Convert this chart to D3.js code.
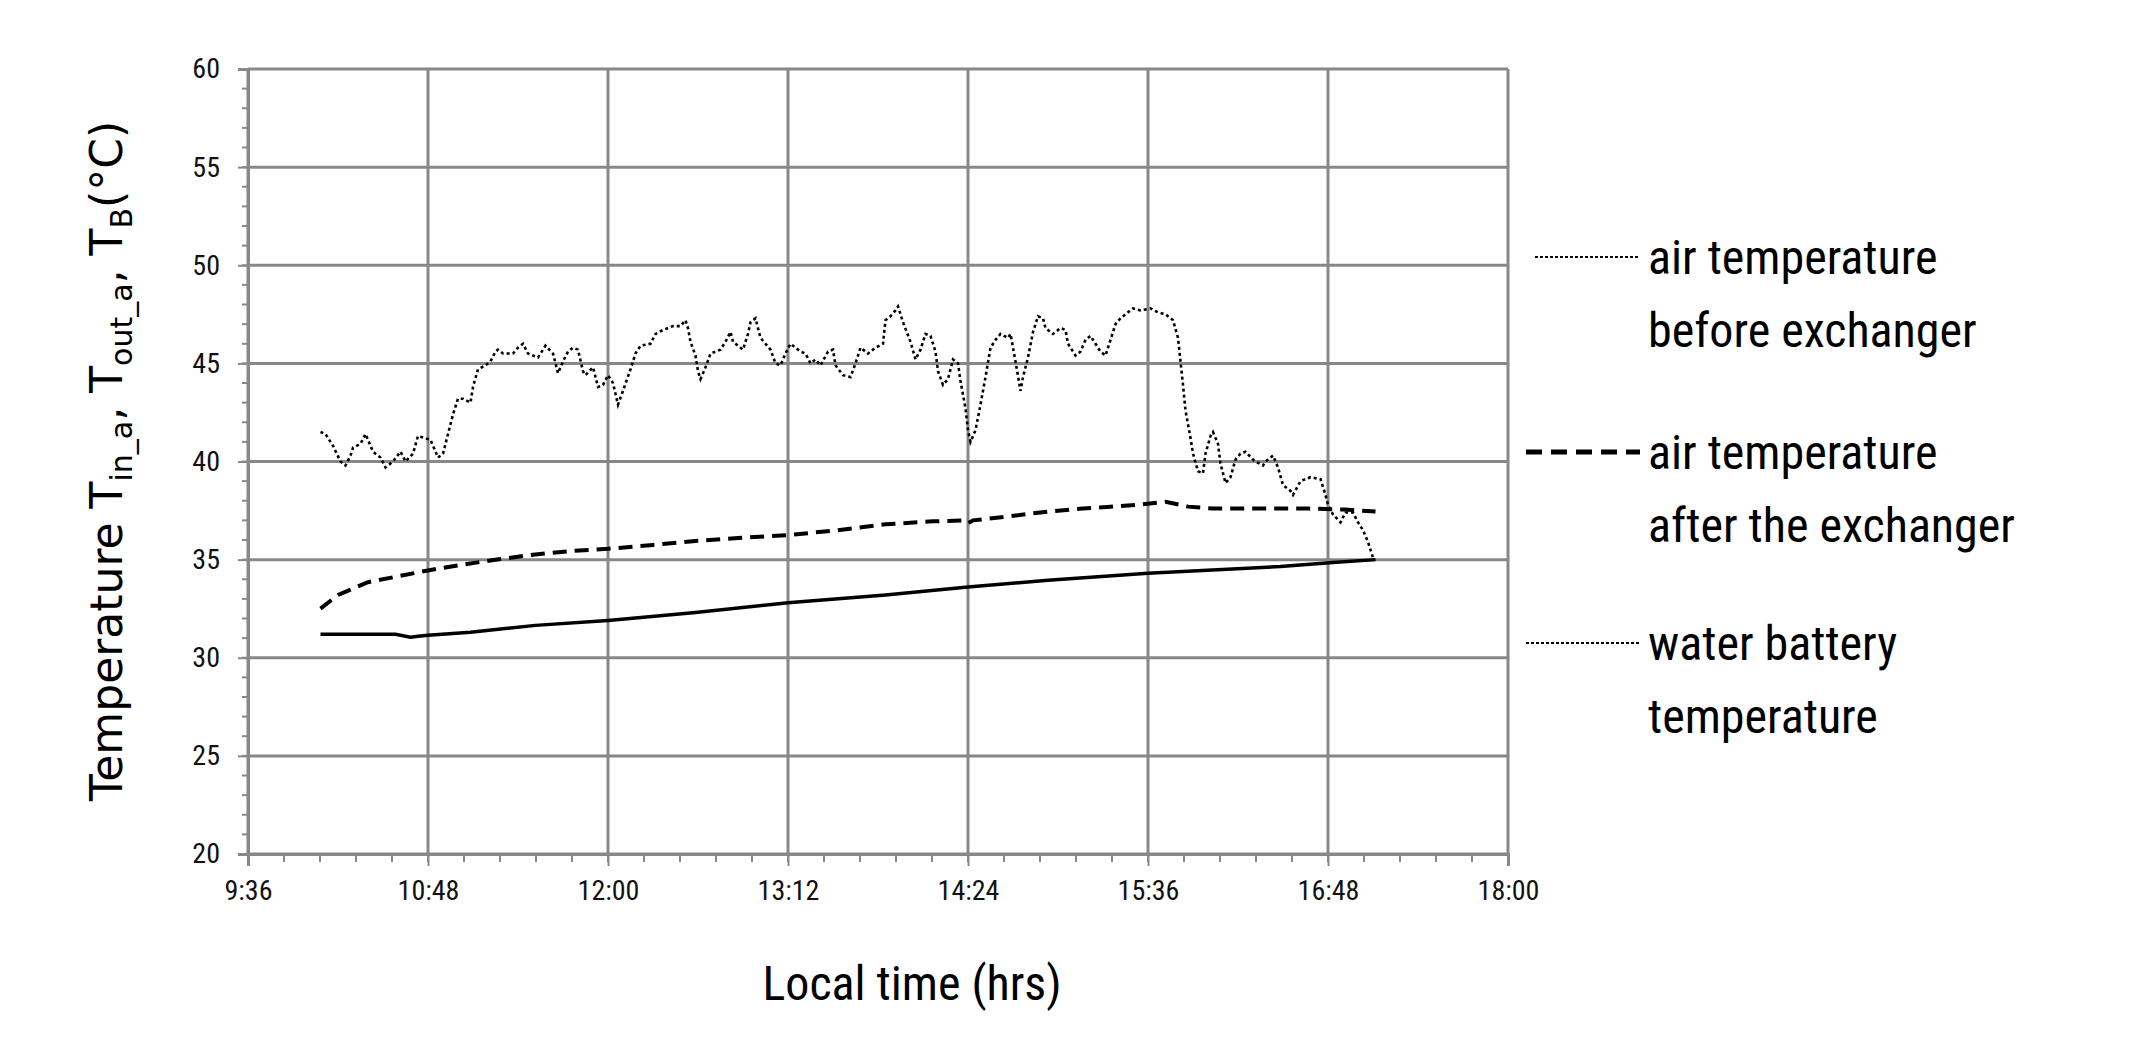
<!DOCTYPE html>
<html><head><meta charset="utf-8">
<script src="https://cdn.jsdelivr.net/npm/d3@7"></script>
<style>body{margin:0;background:#fff}</style></head>
<body><svg id="c" width="2147" height="1059"></svg>
<script>
// time in minutes after midnight
const beforeTime=[605,607,610,613,615,617,618,621,623,626,629,631,634,637,639,642,644,649,650,652,654,656,658,660,662,665,666,668,671,673,675,676,678,682,684,686,688,692,695,698,700,702,704,706,708,710,711,714,716,718,720,722,724,726,729,731,733,737,739,742,746,749,751,752,753,755,756,757,759,761,765,767,769,770,773,774,776,777,779,781,783,785,787,789,791,793,797,799,801,803,805,808,810,811,814,817,819,821,824,827,830,831,833,835,836,838,841,843,845,847,849,851,852,854,856,858,860,861,863,864,865,867,869,871,873,875,877,880,881,883,885,886,888,890,892,894,895,898,901,903,904,906,907,909,911,913,915,917,919,921,923,925,928,930,933,937,940,943,946,948,949,950,951,953,954,956,958,959,961,962,964,965,967,969,971,973,975,978,979,982,983,986,988,990,993,994,997,1001,1005,1007,1008,1010,1013,1015,1018,1020,1022,1024,1026];
const beforeTemp=[41.5,41.4,40.8,40.0,39.8,40.3,40.7,40.9,41.4,40.5,40.2,39.7,40.0,40.5,40.0,40.4,41.3,41.1,40.8,40.2,40.4,41.4,42.4,43.2,43.2,43.0,43.8,44.7,44.9,45.1,45.6,45.7,45.5,45.5,45.8,46.0,45.5,45.3,45.9,45.5,44.5,45.1,45.6,45.8,45.7,44.6,44.4,44.8,43.8,43.9,44.4,44.0,42.9,43.6,44.7,45.5,45.9,46.0,46.5,46.7,46.9,46.9,47.2,46.8,46.1,45.4,44.6,44.2,44.8,45.5,45.7,46.1,46.6,46.1,45.8,45.7,46.5,47.1,47.3,46.3,46.0,45.7,45.0,44.9,45.5,46.0,45.6,45.5,45.0,45.2,44.9,45.6,45.7,44.9,44.4,44.3,45.0,45.8,45.5,45.8,46.0,47.2,47.4,47.7,47.9,47.1,46.1,45.2,45.7,46.5,46.4,45.6,44.6,43.9,44.2,45.2,45.0,44.1,42.7,41.6,41.0,41.6,42.9,44.3,45.8,46.2,46.5,46.3,46.5,45.1,43.6,44.3,45.3,46.6,47.4,47.3,46.8,46.5,46.8,46.7,46.0,45.6,45.4,45.6,46.2,46.4,46.0,45.6,45.4,46.2,47.0,47.3,47.6,47.8,47.7,47.8,47.6,47.5,47.2,46.3,45.1,43.9,42.6,41.2,40.4,39.5,39.4,40.4,41.3,41.5,40.9,39.9,38.9,39.2,40.1,40.4,40.5,40.1,40.0,39.8,40.0,40.3,39.7,38.8,38.5,38.3,39.0,39.2,39.1,38.3,37.8,37.3,36.9,37.4,37.4,36.9,36.5,35.9,35.1];
const afterTime=[605,612,624,636,648,662,677,690,706,720,738,755,772,792,812,831,850,862,864,866,880,896,910,921,932,943,952,962,980,1000,1015,1027];
const afterTemp=[32.5,33.2,33.85,34.15,34.45,34.75,35.03,35.25,35.45,35.55,35.75,35.95,36.1,36.25,36.5,36.8,36.95,37.0,36.85,37.0,37.2,37.45,37.6,37.7,37.8,37.95,37.7,37.6,37.6,37.6,37.55,37.45];
const waterTime=[605,620,635,641,644,648,665,691,720,755,792,831,864,896,936,989,1010,1027];
const waterTemp=[31.2,31.2,31.2,31.05,31.1,31.15,31.3,31.65,31.9,32.3,32.8,33.2,33.6,33.95,34.3,34.65,34.85,35.0];
const xTicks=[576,648,720,792,864,936,1008,1080];
const yTicks=[20,25,30,35,40,45,50,55,60];
const legendLabels=[["air temperature","before exchanger"],["air temperature","after the exchanger"],["water battery","temperature"]];

const svg=d3.select("#c");
const L=248,R=1508,T=69,B=854;
const x=d3.scaleLinear().domain([576,1080]).range([L,R]);
const y=d3.scaleLinear().domain([20,60]).range([B,T]);
const grid="#888";
const narrow="'Liberation Sans Narrow','Roboto Condensed','Liberation Sans',sans-serif";
const fmt=m=>Math.floor(m/60)+":"+String(Math.round(m%60)).padStart(2,"0");

svg.append("g").selectAll("line").data(yTicks).join("line")
 .attr("x1",L).attr("x2",R).attr("y1",d=>y(d)).attr("y2",d=>y(d)).attr("stroke",grid).attr("stroke-width",3);
svg.append("g").selectAll("line").data(xTicks).join("line")
 .attr("y1",T).attr("y2",B).attr("x1",d=>x(d)).attr("x2",d=>x(d)).attr("stroke",grid).attr("stroke-width",3);
svg.append("g").selectAll("line").data(d3.range(20,60.01,1)).join("line")
 .attr("x1",L-6).attr("x2",L).attr("y1",d=>y(d)).attr("y2",d=>y(d)).attr("stroke",grid).attr("stroke-width",2);
svg.append("g").selectAll("line").data(d3.range(0,36)).join("line")
 .attr("y1",B).attr("y2",B+8).attr("x1",d=>x(576+d*14.4)).attr("x2",d=>x(576+d*14.4)).attr("stroke",grid).attr("stroke-width",2);

const ya=svg.append("g").attr("transform",`translate(${L},0)`).call(d3.axisLeft(y).tickValues(yTicks).tickSize(10).tickPadding(18));
const xa=svg.append("g").attr("transform",`translate(0,${B})`).call(d3.axisBottom(x).tickValues(xTicks).tickFormat(fmt).tickSize(12).tickPadding(14));
[ya,xa].forEach(a=>{a.select(".domain").attr("stroke",grid).attr("stroke-width",3);
 a.selectAll(".tick line").attr("stroke",grid).attr("stroke-width",2);
 a.selectAll("text").attr("font-family",narrow).attr("font-size",28).attr("fill","#111");});

const line=d3.line().x(d=>x(d[0])).y(d=>y(d[1]));
const plot=(t,v,w,dash)=>svg.append("path").datum(t.map((d,i)=>[d,v[i]])).attr("d",line)
 .attr("fill","none").attr("stroke","#000").attr("stroke-width",w).attr("stroke-dasharray",dash);
plot(waterTime,waterTemp,3.5,null);
plot(afterTime,afterTemp,4,"14,8");
plot(beforeTime,beforeTemp,2.6,"3,3");

svg.append("text").attr("x",912).attr("y",1000).attr("text-anchor","middle").attr("font-family",narrow).attr("font-size",48).text("Local time (hrs)");
const yt=svg.append("text").attr("transform","translate(122,461) rotate(-90)").attr("text-anchor","middle")
 .attr("font-family","'DejaVu Sans',Verdana,sans-serif").attr("font-size",44);
yt.append("tspan").text("Temperature T");
yt.append("tspan").attr("font-size",30).attr("dy",10).text("in_a");
yt.append("tspan").attr("dy",-10).text(", T");
yt.append("tspan").attr("font-size",30).attr("dy",10).text("out_a");
yt.append("tspan").attr("dy",-10).text(", T");
yt.append("tspan").attr("font-size",30).attr("dy",10).text("B");
yt.append("tspan").attr("dy",-10).text("(°C)");

const ly=[257,452,643];
const lstyle=[[2,"3,2",1535],[5,"16,9",1526],[2,"3,2",1526]];
legendLabels.forEach((lab,i)=>{
 svg.append("line").attr("x1",lstyle[i][2]).attr("x2",1640).attr("y1",ly[i]).attr("y2",ly[i])
  .attr("stroke","#000").attr("stroke-width",lstyle[i][0]).attr("stroke-dasharray",lstyle[i][1]);
 lab.forEach((s,j)=>svg.append("text").attr("x",1648).attr("y",ly[i]+17+j*73).attr("font-family",narrow).attr("font-size",48).text(s));
});
</script></body></html>
